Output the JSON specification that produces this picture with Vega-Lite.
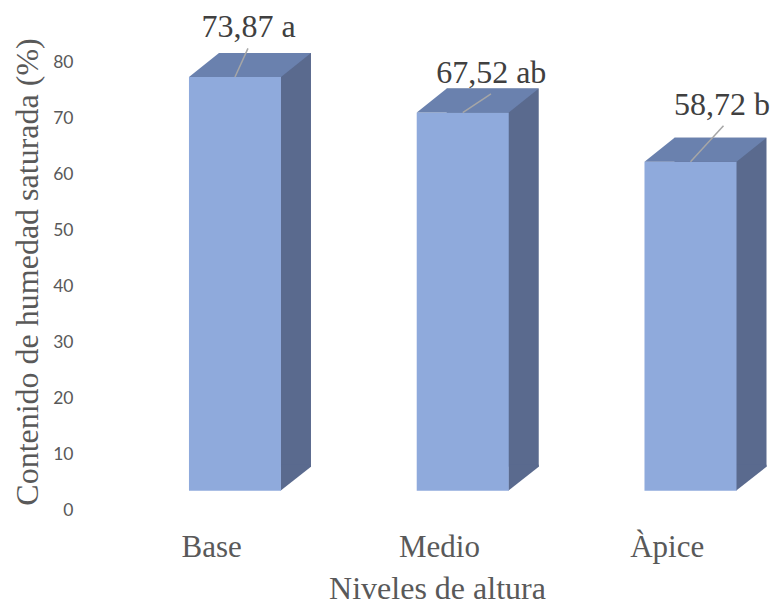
{
  "$schema": "https://vega.github.io/schema/vega-lite/v6.json",
  "width": 680,
  "height": 448,
  "autosize": {"type": "none"},
  "padding": {"left": 80, "top": 62, "right": 13, "bottom": 95},
  "background": "white",
  "config": {"view": {"stroke": null}},
  "data": {
    "values": [
      {"nivel": "Base", "humedad": 73.87, "letra": "a"},
      {"nivel": "Medio", "humedad": 67.52, "letra": "ab"},
      {"nivel": "Àpice", "humedad": 58.72, "letra": "b"}
    ]
  },
  "transform": [
    {"calculate": "replace(format(datum.humedad, '.2f'), '.', ',') + ' ' + datum.letra", "as": "etiqueta"}
  ],
  "encoding": {
    "x": {
      "field": "nivel",
      "type": "nominal",
      "sort": ["Base", "Medio", "Àpice"],
      "scale": {"paddingInner": 0.596, "paddingOuter": 0.2908, "align": 0.8226},
      "axis": {
        "title": "Niveles de altura",
        "domain": false,
        "ticks": false,
        "tickSize": 0,
        "grid": false,
        "labelAngle": 0,
        "labelFont": "Liberation Serif",
        "labelFontSize": 31,
        "labelColor": "#595959",
        "labelPadding": 46,
        "labelBaseline": "alphabetic",
        "labelOffset": -23.25,
        "titleFont": "Liberation Serif",
        "titleFontSize": 32,
        "titleFontWeight": "normal",
        "titleColor": "#595959",
        "titleX": 357,
        "titleY": 88,
        "titleBaseline": "alphabetic",
        "titleAlign": "center"
      }
    },
    "y": {
      "field": "humedad",
      "type": "quantitative",
      "scale": {"domain": [0, 80], "nice": false, "zero": true},
      "axis": {
        "title": "Contenido de humedad saturada (%)",
        "values": [0, 10, 20, 30, 40, 50, 60, 70, 80],
        "domain": false,
        "ticks": false,
        "tickSize": 0,
        "grid": false,
        "labelFlush": false,
        "labelOverlap": false,
        "labelFont": "Lato",
        "labelFontSize": 17.5,
        "labelColor": "#595959",
        "labelPadding": 7,
        "titleFont": "Liberation Serif",
        "titleFontSize": 32,
        "titleFontWeight": "normal",
        "titleColor": "#595959",
        "titleX": -43,
        "titleY": 209.5,
        "titleAngle": -90,
        "titleBaseline": "alphabetic",
        "titleAlign": "center"
      }
    }
  },
  "layer": [
    {
      "mark": {"type": "bar", "color": "#5A6A8E", "xOffset": 30, "x2Offset": 30, "yOffset": -43.3, "y2Offset": -43.3}
    },
    {
      "mark": {"type": "point", "shape": "M 0.91 0 L 1.52 -0.48 L 1.52 -0.52 L 0.91 -0.52 Z", "size": 10000, "filled": true, "color": "#5A6A8E", "opacity": 1, "strokeWidth": 0, "yOffset": -19.3},
      "encoding": {"y": {"datum": 0}}
    },
    {
      "mark": {"type": "bar", "color": "#8FAADC", "yOffset": -19.3, "y2Offset": -19.3}
    },
    {
      "mark": {"type": "point", "shape": "M -0.92 0 L 0.92 0 L 1.52 -0.48 L -0.32 -0.48 Z", "size": 10000, "filled": true, "color": "#6A81AE", "opacity": 1, "strokeWidth": 0, "yOffset": -19.3}
    },
    {
      "transform": [{"filter": "datum.nivel === 'Base'"}],
      "mark": {"type": "point", "shape": "M 0 0 L 0.26 -0.574", "size": 10000, "filled": false, "color": "#A6A6A6", "opacity": 1, "strokeWidth": 1.5, "yOffset": -19.3}
    },
    {
      "transform": [{"filter": "datum.nivel === 'Medio'"}],
      "mark": {"type": "point", "shape": "M 0 0 L 0.565 -0.374", "size": 10000, "filled": false, "color": "#A6A6A6", "opacity": 1, "strokeWidth": 1.5, "yOffset": -19.3}
    },
    {
      "transform": [{"filter": "datum.nivel === 'Àpice'"}],
      "mark": {"type": "point", "shape": "M 0 0 L 0.66 -0.72", "size": 10000, "filled": false, "color": "#A6A6A6", "opacity": 1, "strokeWidth": 1.5, "yOffset": -19.3}
    },
    {
      "transform": [{"filter": "datum.nivel === 'Base'"}],
      "mark": {"type": "text", "font": "Liberation Serif", "fontSize": 32, "color": "#404040", "align": "center", "baseline": "alphabetic", "dx": 13.5, "dy": -59},
      "encoding": {"text": {"field": "etiqueta"}}
    },
    {
      "transform": [{"filter": "datum.nivel === 'Medio'"}],
      "mark": {"type": "text", "font": "Liberation Serif", "fontSize": 32, "color": "#404040", "align": "center", "baseline": "alphabetic", "dx": 28.5, "dy": -49},
      "encoding": {"text": {"field": "etiqueta"}}
    },
    {
      "transform": [{"filter": "datum.nivel === 'Àpice'"}],
      "mark": {"type": "text", "font": "Liberation Serif", "fontSize": 32, "color": "#404040", "align": "center", "baseline": "alphabetic", "dx": 31.5, "dy": -66},
      "encoding": {"text": {"field": "etiqueta"}}
    }
  ]
}
